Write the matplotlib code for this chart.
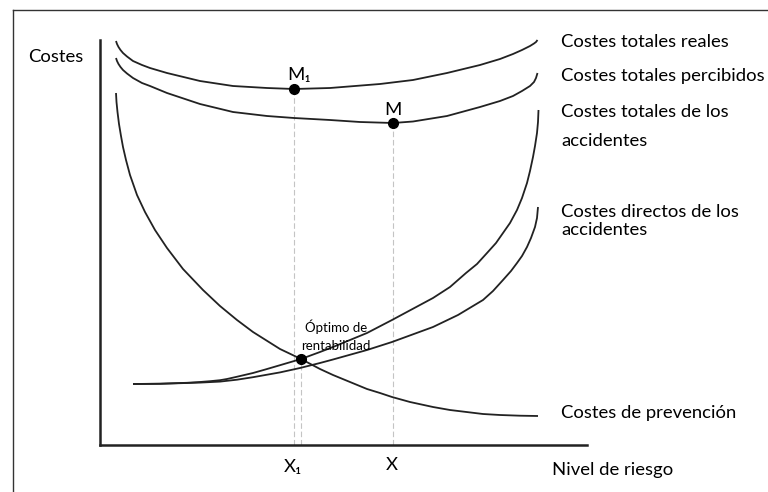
import matplotlib.pyplot as plt
from matplotlib.lines import Line2D

# curve samples (arbitrary units: risk level / cost)
reales_x = [16, 17, 18.5, 20.5, 23, 27, 33, 42, 50, 67, 100, 133, 167, 194, 230, 280, 313, 347, 380,
            400, 413, 422, 430, 434, 436, 437.5]
reales_y = [404, 401, 398, 395, 392, 388.5, 384, 380, 377, 372, 364, 359, 357, 356, 357, 361, 365, 372, 380,
            386, 391, 395, 399, 401.5, 403, 405]

percib_x = [16, 17, 18.5, 20.5, 23, 27, 33, 42, 50, 67, 100, 133, 167, 194, 230, 260, 293, 313, 347, 380,
            400, 413, 422, 430, 434, 436, 437.5]
percib_y = [387, 384, 381, 378, 375, 371.5, 367, 362, 359, 352, 341, 333, 329, 327, 325, 323, 322, 323.5, 329, 338,
            344, 349, 354, 359, 363, 367, 372]

prev_x = [16, 16.5, 17.5, 19, 21, 23, 26, 30, 37, 45, 55, 67, 83, 103, 120, 137, 153, 180, 201, 220, 233,
          250, 267, 280, 292, 310, 333, 350, 383, 400, 420, 438]
prev_y = [352, 343, 333, 321, 309, 298, 285, 270, 250, 233, 215, 197, 176, 155, 139, 125, 113, 96, 86, 76, 70,
          63, 56, 52, 48, 43, 38, 35, 31, 30, 29.3, 29]

acc_tot_x = [33, 60, 87, 100, 110, 120, 127, 135, 153, 165, 180, 201, 220, 233, 267, 292, 333, 350, 366, 377,
             387, 396, 403, 410, 417, 422, 427, 430, 433, 435, 437, 438, 438.5]
acc_tot_y = [61, 61.3, 62.2, 63, 63.8, 64.8, 66, 67.8, 72, 75.4, 79.8, 86, 93, 98, 112, 125, 147, 158, 172, 181,
             192, 202, 212, 222, 235, 247, 262, 274, 288, 299, 312, 323, 335]

acc_dir_x = [33, 60, 87, 100, 120, 137, 153, 180, 200, 220, 233, 267, 292, 333, 358, 383, 393, 403, 411, 417,
             422, 427, 431, 435, 437, 438]
acc_dir_y = [61, 61.2, 62, 62.4, 63.4, 65.3, 67.8, 72.6, 77, 82, 85.5, 95, 103, 118, 130, 145, 154, 165, 174, 182,
             189, 198, 207, 218, 227, 238]

# marked points: M1, M, optimum
pts_x = [194, 293, 201]
pts_y = [356, 322, 86]

curve_labels = [
    ('Costes totales reales', 398),
    ('Costes totales percibidos', 364),
    ('Costes totales de los', 328),
    ('accidentes', 299),
    ('Costes directos de los', 228),
    ('accidentes', 210),
    ('Costes de prevención', 27),
]

FONT = ['Lato', 'DejaVu Sans']
plt.rcParams['font.family'] = FONT

W, H = 768, 492
fig = plt.figure(figsize=(W / 100, H / 100), dpi=100)
ax = fig.add_axes([100 / W, 47 / H, 487 / W, 405 / H])
ax.set_xlim(0, 487)
ax.set_ylim(0, 405)
for s in ['top', 'right']:
    ax.spines[s].set_visible(False)
for s in ['left', 'bottom']:
    ax.spines[s].set_linewidth(1.8)
    ax.spines[s].set_color('#222222')
ax.set_xticks([])
ax.set_yticks([])

# outer frame (right and bottom edges fall outside the picture)
fig.add_artist(Line2D([12.5 / W, 12.5 / W], [0, 1 - 9.5 / H], color='#333333', lw=1.0))
fig.add_artist(Line2D([12.5 / W, 1], [1 - 9.5 / H, 1 - 9.5 / H], color='#333333', lw=1.0))

lc = '#222222'
for xs, ys in [(reales_x, reales_y), (percib_x, percib_y), (prev_x, prev_y),
               (acc_tot_x, acc_tot_y), (acc_dir_x, acc_dir_y)]:
    ax.plot(xs, ys, color=lc, lw=1.3, solid_joinstyle='round', solid_capstyle='butt', clip_on=False)

# dashed guides down to the axis
for x, y in zip(pts_x, pts_y):
    ax.plot([x, x], [0, y], color='#c4c4c4', lw=0.8, ls=(0, (5, 2.5)), zorder=1)
ax.plot(pts_x, pts_y, 'o', color='black', ms=7, zorder=3)

fs = 13.3
ax.text(-72, 383, 'Costes', fontsize=fs, va='baseline', clip_on=False)
for txt, y in curve_labels:
    ax.text(461, y, txt, fontsize=fs, va='baseline', clip_on=False)
ax.text(452, -30, 'Nivel de riesgo', fontsize=fs, va='baseline', clip_on=False)
ax.text(193, -27, 'X\u2081', fontsize=fs, ha='center', va='baseline', clip_on=False)
ax.text(292, -25, 'X', fontsize=fs, ha='center', va='baseline', clip_on=False)
ax.text(187, 365, 'M\u2081', fontsize=fs, va='baseline', clip_on=False)
ax.text(284, 330, 'M', fontsize=fs, va='baseline', clip_on=False)
ax.text(236, 113, 'Óptimo de', fontsize=9.5, ha='center', va='baseline')
ax.text(236, 95, 'rentabilidad', fontsize=9.5, ha='center', va='baseline')

fig.savefig('out.png', dpi=100, facecolor='white')
